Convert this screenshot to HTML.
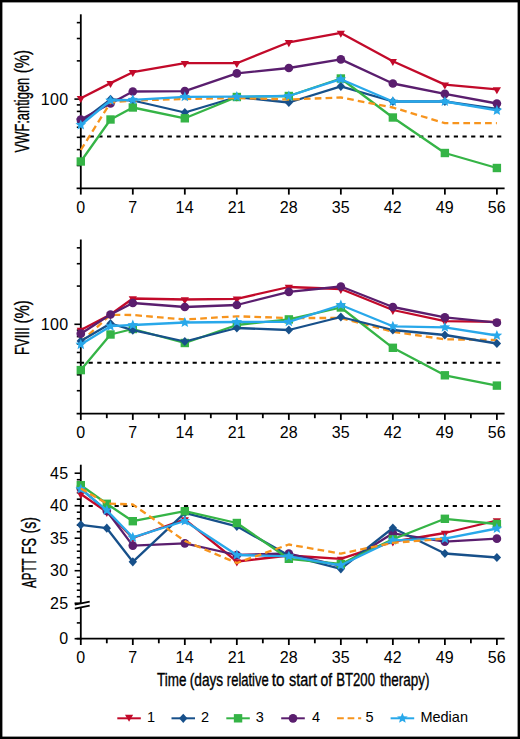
<!DOCTYPE html>
<html><head><meta charset="utf-8"><style>
html,body{margin:0;padding:0;background:#fff;}
svg{display:block;}
text{font-family:"Liberation Sans",sans-serif;fill:#000;}
.tl{font-size:16px;letter-spacing:0.3px;}
.lg{font-size:14.5px;}
.yl{font-size:19px;}
.xl{font-size:17.5px;}
.bw{stroke:#000;stroke-width:0.35px;}
</style></head><body>
<svg width="520" height="739" viewBox="0 0 520 739">
<rect x="0" y="0" width="520" height="739" fill="#fff"/>
<line x1="80.8" y1="14.3" x2="80.8" y2="189.10000000000002" stroke="#000" stroke-width="1.8"/>
<line x1="76.8" y1="165.51" x2="80.8" y2="165.51" stroke="#000" stroke-width="1.6"/>
<line x1="76.8" y1="149.64" x2="80.8" y2="149.64" stroke="#000" stroke-width="1.6"/>
<line x1="76.8" y1="137.33" x2="80.8" y2="137.33" stroke="#000" stroke-width="1.6"/>
<line x1="76.8" y1="127.27" x2="80.8" y2="127.27" stroke="#000" stroke-width="1.6"/>
<line x1="76.8" y1="118.77" x2="80.8" y2="118.77" stroke="#000" stroke-width="1.6"/>
<line x1="76.8" y1="111.41" x2="80.8" y2="111.41" stroke="#000" stroke-width="1.6"/>
<line x1="76.8" y1="104.91" x2="80.8" y2="104.91" stroke="#000" stroke-width="1.6"/>
<line x1="76.8" y1="60.87" x2="80.8" y2="60.87" stroke="#000" stroke-width="1.6"/>
<line x1="76.8" y1="38.51" x2="80.8" y2="38.51" stroke="#000" stroke-width="1.6"/>
<line x1="76.8" y1="22.64" x2="80.8" y2="22.64" stroke="#000" stroke-width="1.6"/>
<line x1="74.4" y1="99.10" x2="80.8" y2="99.10" stroke="#000" stroke-width="1.6"/>
<text x="68.4" y="104.60" text-anchor="end" class="tl">100</text>
<line x1="81.0" y1="136.40" x2="501.3" y2="136.40" stroke="#000" stroke-width="2" stroke-dasharray="4.2,4.47"/>
<line x1="76.6" y1="188.3" x2="504.6" y2="188.3" stroke="#000" stroke-width="1.8"/>
<line x1="80.80" y1="188.3" x2="80.80" y2="194.60000000000002" stroke="#000" stroke-width="1.8"/>
<text x="80.80" y="212.60000000000002" text-anchor="middle" class="tl">0</text>
<line x1="132.81" y1="188.3" x2="132.81" y2="194.60000000000002" stroke="#000" stroke-width="1.8"/>
<text x="132.81" y="212.60000000000002" text-anchor="middle" class="tl">7</text>
<line x1="184.82" y1="188.3" x2="184.82" y2="194.60000000000002" stroke="#000" stroke-width="1.8"/>
<text x="184.82" y="212.60000000000002" text-anchor="middle" class="tl">14</text>
<line x1="236.83" y1="188.3" x2="236.83" y2="194.60000000000002" stroke="#000" stroke-width="1.8"/>
<text x="236.83" y="212.60000000000002" text-anchor="middle" class="tl">21</text>
<line x1="288.84" y1="188.3" x2="288.84" y2="194.60000000000002" stroke="#000" stroke-width="1.8"/>
<text x="288.84" y="212.60000000000002" text-anchor="middle" class="tl">28</text>
<line x1="340.85" y1="188.3" x2="340.85" y2="194.60000000000002" stroke="#000" stroke-width="1.8"/>
<text x="340.85" y="212.60000000000002" text-anchor="middle" class="tl">35</text>
<line x1="392.86" y1="188.3" x2="392.86" y2="194.60000000000002" stroke="#000" stroke-width="1.8"/>
<text x="392.86" y="212.60000000000002" text-anchor="middle" class="tl">42</text>
<line x1="444.87" y1="188.3" x2="444.87" y2="194.60000000000002" stroke="#000" stroke-width="1.8"/>
<text x="444.87" y="212.60000000000002" text-anchor="middle" class="tl">49</text>
<line x1="496.88" y1="188.3" x2="496.88" y2="194.60000000000002" stroke="#000" stroke-width="1.8"/>
<text x="496.88" y="212.60000000000002" text-anchor="middle" class="tl">56</text>
<line x1="80.8" y1="239.5" x2="80.8" y2="414.3" stroke="#000" stroke-width="1.8"/>
<line x1="76.8" y1="390.71" x2="80.8" y2="390.71" stroke="#000" stroke-width="1.6"/>
<line x1="76.8" y1="374.84" x2="80.8" y2="374.84" stroke="#000" stroke-width="1.6"/>
<line x1="76.8" y1="362.53" x2="80.8" y2="362.53" stroke="#000" stroke-width="1.6"/>
<line x1="76.8" y1="352.47" x2="80.8" y2="352.47" stroke="#000" stroke-width="1.6"/>
<line x1="76.8" y1="343.97" x2="80.8" y2="343.97" stroke="#000" stroke-width="1.6"/>
<line x1="76.8" y1="336.61" x2="80.8" y2="336.61" stroke="#000" stroke-width="1.6"/>
<line x1="76.8" y1="330.11" x2="80.8" y2="330.11" stroke="#000" stroke-width="1.6"/>
<line x1="76.8" y1="286.07" x2="80.8" y2="286.07" stroke="#000" stroke-width="1.6"/>
<line x1="76.8" y1="263.71" x2="80.8" y2="263.71" stroke="#000" stroke-width="1.6"/>
<line x1="76.8" y1="247.84" x2="80.8" y2="247.84" stroke="#000" stroke-width="1.6"/>
<line x1="74.4" y1="324.30" x2="80.8" y2="324.30" stroke="#000" stroke-width="1.6"/>
<text x="68.4" y="329.80" text-anchor="end" class="tl">100</text>
<line x1="79.9" y1="362.80" x2="501.3" y2="362.80" stroke="#000" stroke-width="2" stroke-dasharray="4.2,4.47"/>
<line x1="76.6" y1="413.6" x2="504.6" y2="413.6" stroke="#000" stroke-width="1.8"/>
<line x1="80.80" y1="413.6" x2="80.80" y2="419.90000000000003" stroke="#000" stroke-width="1.8"/>
<text x="80.80" y="437.90000000000003" text-anchor="middle" class="tl">0</text>
<line x1="106.80" y1="413.6" x2="106.80" y2="418.20000000000005" stroke="#000" stroke-width="1.8"/>
<line x1="132.81" y1="413.6" x2="132.81" y2="419.90000000000003" stroke="#000" stroke-width="1.8"/>
<text x="132.81" y="437.90000000000003" text-anchor="middle" class="tl">7</text>
<line x1="158.81" y1="413.6" x2="158.81" y2="418.20000000000005" stroke="#000" stroke-width="1.8"/>
<line x1="184.82" y1="413.6" x2="184.82" y2="419.90000000000003" stroke="#000" stroke-width="1.8"/>
<text x="184.82" y="437.90000000000003" text-anchor="middle" class="tl">14</text>
<line x1="210.82" y1="413.6" x2="210.82" y2="418.20000000000005" stroke="#000" stroke-width="1.8"/>
<line x1="236.83" y1="413.6" x2="236.83" y2="419.90000000000003" stroke="#000" stroke-width="1.8"/>
<text x="236.83" y="437.90000000000003" text-anchor="middle" class="tl">21</text>
<line x1="262.83" y1="413.6" x2="262.83" y2="418.20000000000005" stroke="#000" stroke-width="1.8"/>
<line x1="288.84" y1="413.6" x2="288.84" y2="419.90000000000003" stroke="#000" stroke-width="1.8"/>
<text x="288.84" y="437.90000000000003" text-anchor="middle" class="tl">28</text>
<line x1="314.84" y1="413.6" x2="314.84" y2="418.20000000000005" stroke="#000" stroke-width="1.8"/>
<line x1="340.85" y1="413.6" x2="340.85" y2="419.90000000000003" stroke="#000" stroke-width="1.8"/>
<text x="340.85" y="437.90000000000003" text-anchor="middle" class="tl">35</text>
<line x1="366.86" y1="413.6" x2="366.86" y2="418.20000000000005" stroke="#000" stroke-width="1.8"/>
<line x1="392.86" y1="413.6" x2="392.86" y2="419.90000000000003" stroke="#000" stroke-width="1.8"/>
<text x="392.86" y="437.90000000000003" text-anchor="middle" class="tl">42</text>
<line x1="418.87" y1="413.6" x2="418.87" y2="418.20000000000005" stroke="#000" stroke-width="1.8"/>
<line x1="444.87" y1="413.6" x2="444.87" y2="419.90000000000003" stroke="#000" stroke-width="1.8"/>
<text x="444.87" y="437.90000000000003" text-anchor="middle" class="tl">49</text>
<line x1="470.88" y1="413.6" x2="470.88" y2="418.20000000000005" stroke="#000" stroke-width="1.8"/>
<line x1="496.88" y1="413.6" x2="496.88" y2="419.90000000000003" stroke="#000" stroke-width="1.8"/>
<text x="496.88" y="437.90000000000003" text-anchor="middle" class="tl">56</text>
<line x1="80.8" y1="464.7" x2="80.8" y2="639.5" stroke="#000" stroke-width="1.8"/>
<line x1="76.8" y1="596.70" x2="80.8" y2="596.70" stroke="#000" stroke-width="1.6"/>
<line x1="76.8" y1="590.20" x2="80.8" y2="590.20" stroke="#000" stroke-width="1.6"/>
<line x1="76.8" y1="583.70" x2="80.8" y2="583.70" stroke="#000" stroke-width="1.6"/>
<line x1="76.8" y1="577.20" x2="80.8" y2="577.20" stroke="#000" stroke-width="1.6"/>
<line x1="74.6" y1="570.70" x2="80.8" y2="570.70" stroke="#000" stroke-width="1.6"/>
<text x="68.4" y="576.20" text-anchor="end" class="tl">30</text>
<line x1="76.8" y1="564.20" x2="80.8" y2="564.20" stroke="#000" stroke-width="1.6"/>
<line x1="76.8" y1="557.70" x2="80.8" y2="557.70" stroke="#000" stroke-width="1.6"/>
<line x1="76.8" y1="551.20" x2="80.8" y2="551.20" stroke="#000" stroke-width="1.6"/>
<line x1="76.8" y1="544.70" x2="80.8" y2="544.70" stroke="#000" stroke-width="1.6"/>
<line x1="74.6" y1="538.20" x2="80.8" y2="538.20" stroke="#000" stroke-width="1.6"/>
<text x="68.4" y="543.70" text-anchor="end" class="tl">35</text>
<line x1="76.8" y1="531.70" x2="80.8" y2="531.70" stroke="#000" stroke-width="1.6"/>
<line x1="76.8" y1="525.20" x2="80.8" y2="525.20" stroke="#000" stroke-width="1.6"/>
<line x1="76.8" y1="518.70" x2="80.8" y2="518.70" stroke="#000" stroke-width="1.6"/>
<line x1="76.8" y1="512.20" x2="80.8" y2="512.20" stroke="#000" stroke-width="1.6"/>
<line x1="74.6" y1="505.70" x2="80.8" y2="505.70" stroke="#000" stroke-width="1.6"/>
<text x="68.4" y="511.20" text-anchor="end" class="tl">40</text>
<line x1="76.8" y1="499.20" x2="80.8" y2="499.20" stroke="#000" stroke-width="1.6"/>
<line x1="76.8" y1="492.70" x2="80.8" y2="492.70" stroke="#000" stroke-width="1.6"/>
<line x1="76.8" y1="486.20" x2="80.8" y2="486.20" stroke="#000" stroke-width="1.6"/>
<line x1="76.8" y1="479.70" x2="80.8" y2="479.70" stroke="#000" stroke-width="1.6"/>
<line x1="74.6" y1="473.20" x2="80.8" y2="473.20" stroke="#000" stroke-width="1.6"/>
<text x="68.4" y="478.70" text-anchor="end" class="tl">45</text>
<line x1="74.6" y1="603.20" x2="80.8" y2="603.20" stroke="#000" stroke-width="1.6"/>
<text x="68.4" y="608.70" text-anchor="end" class="tl">25</text>
<line x1="76.8" y1="622.9" x2="80.8" y2="622.9" stroke="#000" stroke-width="1.6"/>
<line x1="74.6" y1="638.7" x2="80.8" y2="638.7" stroke="#000" stroke-width="1.6"/>
<text x="68.4" y="644.20" text-anchor="end" class="tl">0</text>
<path d="M74.8,604.6 L89.7,601.6 L89.7,605.6 L74.8,608.6z" fill="#fff"/>
<path d="M74.8,604.6 L89.7,601.6 M74.8,608.6 L89.7,605.6" stroke="#000" stroke-width="1.8" fill="none"/>
<line x1="79.9" y1="506.00" x2="501.3" y2="506.00" stroke="#000" stroke-width="2" stroke-dasharray="4.2,4.47"/>
<line x1="76.6" y1="638.7" x2="504.6" y2="638.7" stroke="#000" stroke-width="1.8"/>
<line x1="80.80" y1="638.7" x2="80.80" y2="645.0" stroke="#000" stroke-width="1.8"/>
<text x="80.80" y="663.0" text-anchor="middle" class="tl">0</text>
<line x1="106.80" y1="638.7" x2="106.80" y2="643.3000000000001" stroke="#000" stroke-width="1.8"/>
<line x1="132.81" y1="638.7" x2="132.81" y2="645.0" stroke="#000" stroke-width="1.8"/>
<text x="132.81" y="663.0" text-anchor="middle" class="tl">7</text>
<line x1="158.81" y1="638.7" x2="158.81" y2="643.3000000000001" stroke="#000" stroke-width="1.8"/>
<line x1="184.82" y1="638.7" x2="184.82" y2="645.0" stroke="#000" stroke-width="1.8"/>
<text x="184.82" y="663.0" text-anchor="middle" class="tl">14</text>
<line x1="210.82" y1="638.7" x2="210.82" y2="643.3000000000001" stroke="#000" stroke-width="1.8"/>
<line x1="236.83" y1="638.7" x2="236.83" y2="645.0" stroke="#000" stroke-width="1.8"/>
<text x="236.83" y="663.0" text-anchor="middle" class="tl">21</text>
<line x1="262.83" y1="638.7" x2="262.83" y2="643.3000000000001" stroke="#000" stroke-width="1.8"/>
<line x1="288.84" y1="638.7" x2="288.84" y2="645.0" stroke="#000" stroke-width="1.8"/>
<text x="288.84" y="663.0" text-anchor="middle" class="tl">28</text>
<line x1="314.84" y1="638.7" x2="314.84" y2="643.3000000000001" stroke="#000" stroke-width="1.8"/>
<line x1="340.85" y1="638.7" x2="340.85" y2="645.0" stroke="#000" stroke-width="1.8"/>
<text x="340.85" y="663.0" text-anchor="middle" class="tl">35</text>
<line x1="366.86" y1="638.7" x2="366.86" y2="643.3000000000001" stroke="#000" stroke-width="1.8"/>
<line x1="392.86" y1="638.7" x2="392.86" y2="645.0" stroke="#000" stroke-width="1.8"/>
<text x="392.86" y="663.0" text-anchor="middle" class="tl">42</text>
<line x1="418.87" y1="638.7" x2="418.87" y2="643.3000000000001" stroke="#000" stroke-width="1.8"/>
<line x1="444.87" y1="638.7" x2="444.87" y2="645.0" stroke="#000" stroke-width="1.8"/>
<text x="444.87" y="663.0" text-anchor="middle" class="tl">49</text>
<line x1="470.88" y1="638.7" x2="470.88" y2="643.3000000000001" stroke="#000" stroke-width="1.8"/>
<line x1="496.88" y1="638.7" x2="496.88" y2="645.0" stroke="#000" stroke-width="1.8"/>
<text x="496.88" y="663.0" text-anchor="middle" class="tl">56</text>
<polyline points="80.80,98.20 110.52,83.10 132.81,72.20 184.82,63.20 236.83,63.20 288.84,42.30 340.85,32.90 392.86,61.20 444.87,84.60 496.88,89.40" fill="none" stroke="#c20a2a" stroke-width="2.3" stroke-linejoin="round"/>
<path d="M76.70,96.00h8.2l-4.1,7.1z" fill="#c20a2a"/>
<path d="M106.42,80.90h8.2l-4.1,7.1z" fill="#c20a2a"/>
<path d="M128.71,70.00h8.2l-4.1,7.1z" fill="#c20a2a"/>
<path d="M180.72,61.00h8.2l-4.1,7.1z" fill="#c20a2a"/>
<path d="M232.73,61.00h8.2l-4.1,7.1z" fill="#c20a2a"/>
<path d="M284.74,40.10h8.2l-4.1,7.1z" fill="#c20a2a"/>
<path d="M336.75,30.70h8.2l-4.1,7.1z" fill="#c20a2a"/>
<path d="M388.76,59.00h8.2l-4.1,7.1z" fill="#c20a2a"/>
<path d="M440.77,82.40h8.2l-4.1,7.1z" fill="#c20a2a"/>
<path d="M492.78,87.20h8.2l-4.1,7.1z" fill="#c20a2a"/>
<polyline points="80.80,122.00 110.52,99.30 132.81,100.50 184.82,112.50 236.83,97.00 288.84,102.50 340.85,86.30 392.86,101.50 444.87,101.50 496.88,109.00" fill="none" stroke="#17508a" stroke-width="2.3" stroke-linejoin="round"/>
<path d="M80.80,117.40l4.2,4.6l-4.2,4.6l-4.2,-4.6z" fill="#17508a"/>
<path d="M110.52,94.70l4.2,4.6l-4.2,4.6l-4.2,-4.6z" fill="#17508a"/>
<path d="M132.81,95.90l4.2,4.6l-4.2,4.6l-4.2,-4.6z" fill="#17508a"/>
<path d="M184.82,107.90l4.2,4.6l-4.2,4.6l-4.2,-4.6z" fill="#17508a"/>
<path d="M236.83,92.40l4.2,4.6l-4.2,4.6l-4.2,-4.6z" fill="#17508a"/>
<path d="M288.84,97.90l4.2,4.6l-4.2,4.6l-4.2,-4.6z" fill="#17508a"/>
<path d="M340.85,81.70l4.2,4.6l-4.2,4.6l-4.2,-4.6z" fill="#17508a"/>
<path d="M392.86,96.90l4.2,4.6l-4.2,4.6l-4.2,-4.6z" fill="#17508a"/>
<path d="M444.87,96.90l4.2,4.6l-4.2,4.6l-4.2,-4.6z" fill="#17508a"/>
<path d="M496.88,104.40l4.2,4.6l-4.2,4.6l-4.2,-4.6z" fill="#17508a"/>
<polyline points="80.80,161.50 110.52,119.50 132.81,107.50 184.82,118.30 236.83,97.00 288.84,96.00 340.85,78.50 392.86,117.50 444.87,153.00 496.88,168.00" fill="none" stroke="#35b446" stroke-width="2.3" stroke-linejoin="round"/>
<rect x="76.60" y="157.30" width="8.4" height="8.4" fill="#35b446"/>
<rect x="106.32" y="115.30" width="8.4" height="8.4" fill="#35b446"/>
<rect x="128.61" y="103.30" width="8.4" height="8.4" fill="#35b446"/>
<rect x="180.62" y="114.10" width="8.4" height="8.4" fill="#35b446"/>
<rect x="232.63" y="92.80" width="8.4" height="8.4" fill="#35b446"/>
<rect x="284.64" y="91.80" width="8.4" height="8.4" fill="#35b446"/>
<rect x="336.65" y="74.30" width="8.4" height="8.4" fill="#35b446"/>
<rect x="388.66" y="113.30" width="8.4" height="8.4" fill="#35b446"/>
<rect x="440.67" y="148.80" width="8.4" height="8.4" fill="#35b446"/>
<rect x="492.68" y="163.80" width="8.4" height="8.4" fill="#35b446"/>
<polyline points="80.80,119.60 110.52,103.40 132.81,91.50 184.82,91.20 236.83,73.40 288.84,68.00 340.85,59.40 392.86,83.50 444.87,93.80 496.88,103.50" fill="none" stroke="#5a1e6e" stroke-width="2.3" stroke-linejoin="round"/>
<circle cx="80.80" cy="119.60" r="4.35" fill="#5a1e6e"/>
<circle cx="110.52" cy="103.40" r="4.35" fill="#5a1e6e"/>
<circle cx="132.81" cy="91.50" r="4.35" fill="#5a1e6e"/>
<circle cx="184.82" cy="91.20" r="4.35" fill="#5a1e6e"/>
<circle cx="236.83" cy="73.40" r="4.35" fill="#5a1e6e"/>
<circle cx="288.84" cy="68.00" r="4.35" fill="#5a1e6e"/>
<circle cx="340.85" cy="59.40" r="4.35" fill="#5a1e6e"/>
<circle cx="392.86" cy="83.50" r="4.35" fill="#5a1e6e"/>
<circle cx="444.87" cy="93.80" r="4.35" fill="#5a1e6e"/>
<circle cx="496.88" cy="103.50" r="4.35" fill="#5a1e6e"/>
<polyline points="80.80,150.00 110.52,102.50 132.81,100.50 184.82,99.00 236.83,98.00 288.84,99.50 340.85,97.50 392.86,107.50 444.87,123.20 496.88,123.20" fill="none" stroke="#f7941d" stroke-width="2.3" stroke-dasharray="6.7,4.15" stroke-linejoin="round"/>
<polyline points="80.80,125.00 110.52,100.50 132.81,99.80 184.82,96.80 236.83,96.70 288.84,96.00 340.85,79.20 392.86,101.50 444.87,101.50 496.88,110.40" fill="none" stroke="#28a8ea" stroke-width="2.3" stroke-linejoin="round"/>
<polygon points="80.80,119.40 82.27,122.98 86.13,123.27 83.18,125.77 84.09,129.53 80.80,127.50 77.51,129.53 78.42,125.77 75.47,123.27 79.33,122.98" fill="#28a8ea"/>
<polygon points="110.52,94.90 111.99,98.48 115.85,98.77 112.90,101.27 113.81,105.03 110.52,103.00 107.23,105.03 108.14,101.27 105.19,98.77 109.05,98.48" fill="#28a8ea"/>
<polygon points="132.81,94.20 134.28,97.78 138.14,98.07 135.19,100.57 136.10,104.33 132.81,102.30 129.52,104.33 130.43,100.57 127.48,98.07 131.34,97.78" fill="#28a8ea"/>
<polygon points="184.82,91.20 186.29,94.78 190.15,95.07 187.20,97.57 188.11,101.33 184.82,99.30 181.53,101.33 182.44,97.57 179.49,95.07 183.35,94.78" fill="#28a8ea"/>
<polygon points="236.83,91.10 238.30,94.68 242.16,94.97 239.21,97.47 240.12,101.23 236.83,99.20 233.54,101.23 234.45,97.47 231.50,94.97 235.36,94.68" fill="#28a8ea"/>
<polygon points="288.84,90.40 290.31,93.98 294.17,94.27 291.22,96.77 292.13,100.53 288.84,98.50 285.55,100.53 286.46,96.77 283.51,94.27 287.37,93.98" fill="#28a8ea"/>
<polygon points="340.85,73.60 342.32,77.18 346.18,77.47 343.23,79.97 344.14,83.73 340.85,81.70 337.56,83.73 338.47,79.97 335.52,77.47 339.38,77.18" fill="#28a8ea"/>
<polygon points="392.86,95.90 394.33,99.48 398.19,99.77 395.24,102.27 396.15,106.03 392.86,104.00 389.57,106.03 390.48,102.27 387.53,99.77 391.39,99.48" fill="#28a8ea"/>
<polygon points="444.87,95.90 446.34,99.48 450.20,99.77 447.25,102.27 448.16,106.03 444.87,104.00 441.58,106.03 442.49,102.27 439.54,99.77 443.40,99.48" fill="#28a8ea"/>
<polygon points="496.88,104.80 498.35,108.38 502.21,108.67 499.26,111.17 500.17,114.93 496.88,112.90 493.59,114.93 494.50,111.17 491.55,108.67 495.41,108.38" fill="#28a8ea"/>
<polyline points="80.80,330.00 110.52,314.50 132.81,298.50 184.82,299.50 236.83,298.80 288.84,287.00 340.85,289.00 392.86,310.00 444.87,321.20 496.88,321.80" fill="none" stroke="#c20a2a" stroke-width="2.3" stroke-linejoin="round"/>
<path d="M76.70,327.80h8.2l-4.1,7.1z" fill="#c20a2a"/>
<path d="M106.42,312.30h8.2l-4.1,7.1z" fill="#c20a2a"/>
<path d="M128.71,296.30h8.2l-4.1,7.1z" fill="#c20a2a"/>
<path d="M180.72,297.30h8.2l-4.1,7.1z" fill="#c20a2a"/>
<path d="M232.73,296.60h8.2l-4.1,7.1z" fill="#c20a2a"/>
<path d="M284.74,284.80h8.2l-4.1,7.1z" fill="#c20a2a"/>
<path d="M336.75,286.80h8.2l-4.1,7.1z" fill="#c20a2a"/>
<path d="M388.76,307.80h8.2l-4.1,7.1z" fill="#c20a2a"/>
<path d="M440.77,319.00h8.2l-4.1,7.1z" fill="#c20a2a"/>
<path d="M492.78,319.60h8.2l-4.1,7.1z" fill="#c20a2a"/>
<polyline points="80.80,342.00 110.52,314.80 132.81,315.00 184.82,319.50 236.83,316.30 288.84,318.00 340.85,318.00 392.86,331.80 444.87,339.30 496.88,340.00" fill="none" stroke="#f7941d" stroke-width="2.3" stroke-dasharray="6.7,4.15" stroke-linejoin="round"/>
<polyline points="80.80,370.10 110.52,334.50 132.81,329.00 184.82,343.00 236.83,325.00 288.84,319.40 340.85,307.50 392.86,347.80 444.87,375.30 496.88,385.60" fill="none" stroke="#35b446" stroke-width="2.3" stroke-linejoin="round"/>
<rect x="76.60" y="365.90" width="8.4" height="8.4" fill="#35b446"/>
<rect x="106.32" y="330.30" width="8.4" height="8.4" fill="#35b446"/>
<rect x="128.61" y="324.80" width="8.4" height="8.4" fill="#35b446"/>
<rect x="180.62" y="338.80" width="8.4" height="8.4" fill="#35b446"/>
<rect x="232.63" y="320.80" width="8.4" height="8.4" fill="#35b446"/>
<rect x="284.64" y="315.20" width="8.4" height="8.4" fill="#35b446"/>
<rect x="336.65" y="303.30" width="8.4" height="8.4" fill="#35b446"/>
<rect x="388.66" y="343.60" width="8.4" height="8.4" fill="#35b446"/>
<rect x="440.67" y="371.10" width="8.4" height="8.4" fill="#35b446"/>
<rect x="492.68" y="381.40" width="8.4" height="8.4" fill="#35b446"/>
<polyline points="80.80,341.10 110.52,323.50 132.81,330.20 184.82,341.50 236.83,328.00 288.84,330.00 340.85,317.00 392.86,330.00 444.87,335.00 496.88,343.50" fill="none" stroke="#17508a" stroke-width="2.3" stroke-linejoin="round"/>
<path d="M80.80,336.50l4.2,4.6l-4.2,4.6l-4.2,-4.6z" fill="#17508a"/>
<path d="M110.52,318.90l4.2,4.6l-4.2,4.6l-4.2,-4.6z" fill="#17508a"/>
<path d="M132.81,325.60l4.2,4.6l-4.2,4.6l-4.2,-4.6z" fill="#17508a"/>
<path d="M184.82,336.90l4.2,4.6l-4.2,4.6l-4.2,-4.6z" fill="#17508a"/>
<path d="M236.83,323.40l4.2,4.6l-4.2,4.6l-4.2,-4.6z" fill="#17508a"/>
<path d="M288.84,325.40l4.2,4.6l-4.2,4.6l-4.2,-4.6z" fill="#17508a"/>
<path d="M340.85,312.40l4.2,4.6l-4.2,4.6l-4.2,-4.6z" fill="#17508a"/>
<path d="M392.86,325.40l4.2,4.6l-4.2,4.6l-4.2,-4.6z" fill="#17508a"/>
<path d="M444.87,330.40l4.2,4.6l-4.2,4.6l-4.2,-4.6z" fill="#17508a"/>
<path d="M496.88,338.90l4.2,4.6l-4.2,4.6l-4.2,-4.6z" fill="#17508a"/>
<polyline points="80.80,333.70 110.52,314.50 132.81,303.00 184.82,307.00 236.83,305.00 288.84,291.80 340.85,286.50 392.86,307.00 444.87,317.30 496.88,322.70" fill="none" stroke="#5a1e6e" stroke-width="2.3" stroke-linejoin="round"/>
<circle cx="80.80" cy="333.70" r="4.35" fill="#5a1e6e"/>
<circle cx="110.52" cy="314.50" r="4.35" fill="#5a1e6e"/>
<circle cx="132.81" cy="303.00" r="4.35" fill="#5a1e6e"/>
<circle cx="184.82" cy="307.00" r="4.35" fill="#5a1e6e"/>
<circle cx="236.83" cy="305.00" r="4.35" fill="#5a1e6e"/>
<circle cx="288.84" cy="291.80" r="4.35" fill="#5a1e6e"/>
<circle cx="340.85" cy="286.50" r="4.35" fill="#5a1e6e"/>
<circle cx="392.86" cy="307.00" r="4.35" fill="#5a1e6e"/>
<circle cx="444.87" cy="317.30" r="4.35" fill="#5a1e6e"/>
<circle cx="496.88" cy="322.70" r="4.35" fill="#5a1e6e"/>
<polyline points="80.80,344.60 110.52,326.20 132.81,325.00 184.82,322.50 236.83,322.00 288.84,321.80 340.85,305.00 392.86,326.30 444.87,327.30 496.88,335.50" fill="none" stroke="#28a8ea" stroke-width="2.3" stroke-linejoin="round"/>
<polygon points="80.80,339.00 82.27,342.58 86.13,342.87 83.18,345.37 84.09,349.13 80.80,347.10 77.51,349.13 78.42,345.37 75.47,342.87 79.33,342.58" fill="#28a8ea"/>
<polygon points="110.52,320.60 111.99,324.18 115.85,324.47 112.90,326.97 113.81,330.73 110.52,328.70 107.23,330.73 108.14,326.97 105.19,324.47 109.05,324.18" fill="#28a8ea"/>
<polygon points="132.81,319.40 134.28,322.98 138.14,323.27 135.19,325.77 136.10,329.53 132.81,327.50 129.52,329.53 130.43,325.77 127.48,323.27 131.34,322.98" fill="#28a8ea"/>
<polygon points="184.82,316.90 186.29,320.48 190.15,320.77 187.20,323.27 188.11,327.03 184.82,325.00 181.53,327.03 182.44,323.27 179.49,320.77 183.35,320.48" fill="#28a8ea"/>
<polygon points="236.83,316.40 238.30,319.98 242.16,320.27 239.21,322.77 240.12,326.53 236.83,324.50 233.54,326.53 234.45,322.77 231.50,320.27 235.36,319.98" fill="#28a8ea"/>
<polygon points="288.84,316.20 290.31,319.78 294.17,320.07 291.22,322.57 292.13,326.33 288.84,324.30 285.55,326.33 286.46,322.57 283.51,320.07 287.37,319.78" fill="#28a8ea"/>
<polygon points="340.85,299.40 342.32,302.98 346.18,303.27 343.23,305.77 344.14,309.53 340.85,307.50 337.56,309.53 338.47,305.77 335.52,303.27 339.38,302.98" fill="#28a8ea"/>
<polygon points="392.86,320.70 394.33,324.28 398.19,324.57 395.24,327.07 396.15,330.83 392.86,328.80 389.57,330.83 390.48,327.07 387.53,324.57 391.39,324.28" fill="#28a8ea"/>
<polygon points="444.87,321.70 446.34,325.28 450.20,325.57 447.25,328.07 448.16,331.83 444.87,329.80 441.58,331.83 442.49,328.07 439.54,325.57 443.40,325.28" fill="#28a8ea"/>
<polygon points="496.88,329.90 498.35,333.48 502.21,333.77 499.26,336.27 500.17,340.03 496.88,338.00 493.59,340.03 494.50,336.27 491.55,333.77 495.41,333.48" fill="#28a8ea"/>
<polyline points="80.80,494.00 106.80,512.00 132.81,538.00 184.82,519.40 236.83,561.50 288.84,555.50 340.85,558.90 392.86,541.60 444.87,533.00 496.88,520.50" fill="none" stroke="#c20a2a" stroke-width="2.3" stroke-linejoin="round"/>
<path d="M76.70,491.80h8.2l-4.1,7.1z" fill="#c20a2a"/>
<path d="M102.70,509.80h8.2l-4.1,7.1z" fill="#c20a2a"/>
<path d="M128.71,535.80h8.2l-4.1,7.1z" fill="#c20a2a"/>
<path d="M180.72,517.20h8.2l-4.1,7.1z" fill="#c20a2a"/>
<path d="M232.73,559.30h8.2l-4.1,7.1z" fill="#c20a2a"/>
<path d="M284.74,553.30h8.2l-4.1,7.1z" fill="#c20a2a"/>
<path d="M336.75,556.70h8.2l-4.1,7.1z" fill="#c20a2a"/>
<path d="M388.76,539.40h8.2l-4.1,7.1z" fill="#c20a2a"/>
<path d="M440.77,530.80h8.2l-4.1,7.1z" fill="#c20a2a"/>
<path d="M492.78,518.30h8.2l-4.1,7.1z" fill="#c20a2a"/>
<polyline points="80.80,488.50 106.80,511.00 132.81,545.60 184.82,543.30 236.83,555.00 288.84,553.50 340.85,566.00 392.86,533.30 444.87,541.60 496.88,538.70" fill="none" stroke="#5a1e6e" stroke-width="2.3" stroke-linejoin="round"/>
<circle cx="80.80" cy="488.50" r="4.35" fill="#5a1e6e"/>
<circle cx="106.80" cy="511.00" r="4.35" fill="#5a1e6e"/>
<circle cx="132.81" cy="545.60" r="4.35" fill="#5a1e6e"/>
<circle cx="184.82" cy="543.30" r="4.35" fill="#5a1e6e"/>
<circle cx="236.83" cy="555.00" r="4.35" fill="#5a1e6e"/>
<circle cx="288.84" cy="553.50" r="4.35" fill="#5a1e6e"/>
<circle cx="340.85" cy="566.00" r="4.35" fill="#5a1e6e"/>
<circle cx="392.86" cy="533.30" r="4.35" fill="#5a1e6e"/>
<circle cx="444.87" cy="541.60" r="4.35" fill="#5a1e6e"/>
<circle cx="496.88" cy="538.70" r="4.35" fill="#5a1e6e"/>
<polyline points="80.80,524.80 106.80,528.20 132.81,561.80 184.82,512.80 236.83,526.30 288.84,555.50 340.85,568.80 392.86,528.00 444.87,553.50 496.88,557.50" fill="none" stroke="#17508a" stroke-width="2.3" stroke-linejoin="round"/>
<path d="M80.80,520.20l4.2,4.6l-4.2,4.6l-4.2,-4.6z" fill="#17508a"/>
<path d="M106.80,523.60l4.2,4.6l-4.2,4.6l-4.2,-4.6z" fill="#17508a"/>
<path d="M132.81,557.20l4.2,4.6l-4.2,4.6l-4.2,-4.6z" fill="#17508a"/>
<path d="M184.82,508.20l4.2,4.6l-4.2,4.6l-4.2,-4.6z" fill="#17508a"/>
<path d="M236.83,521.70l4.2,4.6l-4.2,4.6l-4.2,-4.6z" fill="#17508a"/>
<path d="M288.84,550.90l4.2,4.6l-4.2,4.6l-4.2,-4.6z" fill="#17508a"/>
<path d="M340.85,564.20l4.2,4.6l-4.2,4.6l-4.2,-4.6z" fill="#17508a"/>
<path d="M392.86,523.40l4.2,4.6l-4.2,4.6l-4.2,-4.6z" fill="#17508a"/>
<path d="M444.87,548.90l4.2,4.6l-4.2,4.6l-4.2,-4.6z" fill="#17508a"/>
<path d="M496.88,552.90l4.2,4.6l-4.2,4.6l-4.2,-4.6z" fill="#17508a"/>
<polyline points="80.80,485.20 106.80,503.80 132.81,521.20 184.82,511.20 236.83,523.00 288.84,558.80 340.85,564.00 392.86,539.30 444.87,518.80 496.88,524.00" fill="none" stroke="#35b446" stroke-width="2.3" stroke-linejoin="round"/>
<rect x="76.60" y="481.00" width="8.4" height="8.4" fill="#35b446"/>
<rect x="102.60" y="499.60" width="8.4" height="8.4" fill="#35b446"/>
<rect x="128.61" y="517.00" width="8.4" height="8.4" fill="#35b446"/>
<rect x="180.62" y="507.00" width="8.4" height="8.4" fill="#35b446"/>
<rect x="232.63" y="518.80" width="8.4" height="8.4" fill="#35b446"/>
<rect x="284.64" y="554.60" width="8.4" height="8.4" fill="#35b446"/>
<rect x="336.65" y="559.80" width="8.4" height="8.4" fill="#35b446"/>
<rect x="388.66" y="535.10" width="8.4" height="8.4" fill="#35b446"/>
<rect x="440.67" y="514.60" width="8.4" height="8.4" fill="#35b446"/>
<rect x="492.68" y="519.80" width="8.4" height="8.4" fill="#35b446"/>
<polyline points="80.80,489.00 106.80,510.30 132.81,537.40 184.82,521.00 236.83,555.00 288.84,556.30 340.85,565.30 392.86,540.30 444.87,538.70 496.88,528.50" fill="none" stroke="#28a8ea" stroke-width="2.3" stroke-linejoin="round"/>
<polygon points="80.80,483.40 82.27,486.98 86.13,487.27 83.18,489.77 84.09,493.53 80.80,491.50 77.51,493.53 78.42,489.77 75.47,487.27 79.33,486.98" fill="#28a8ea"/>
<polygon points="106.80,504.70 108.27,508.28 112.13,508.57 109.18,511.07 110.10,514.83 106.80,512.80 103.51,514.83 104.43,511.07 101.48,508.57 105.34,508.28" fill="#28a8ea"/>
<polygon points="132.81,531.80 134.28,535.38 138.14,535.67 135.19,538.17 136.10,541.93 132.81,539.90 129.52,541.93 130.43,538.17 127.48,535.67 131.34,535.38" fill="#28a8ea"/>
<polygon points="184.82,515.40 186.29,518.98 190.15,519.27 187.20,521.77 188.11,525.53 184.82,523.50 181.53,525.53 182.44,521.77 179.49,519.27 183.35,518.98" fill="#28a8ea"/>
<polygon points="236.83,549.40 238.30,552.98 242.16,553.27 239.21,555.77 240.12,559.53 236.83,557.50 233.54,559.53 234.45,555.77 231.50,553.27 235.36,552.98" fill="#28a8ea"/>
<polygon points="288.84,550.70 290.31,554.28 294.17,554.57 291.22,557.07 292.13,560.83 288.84,558.80 285.55,560.83 286.46,557.07 283.51,554.57 287.37,554.28" fill="#28a8ea"/>
<polygon points="340.85,559.70 342.32,563.28 346.18,563.57 343.23,566.07 344.14,569.83 340.85,567.80 337.56,569.83 338.47,566.07 335.52,563.57 339.38,563.28" fill="#28a8ea"/>
<polygon points="392.86,534.70 394.33,538.28 398.19,538.57 395.24,541.07 396.15,544.83 392.86,542.80 389.57,544.83 390.48,541.07 387.53,538.57 391.39,538.28" fill="#28a8ea"/>
<polygon points="444.87,533.10 446.34,536.68 450.20,536.97 447.25,539.47 448.16,543.23 444.87,541.20 441.58,543.23 442.49,539.47 439.54,536.97 443.40,536.68" fill="#28a8ea"/>
<polygon points="496.88,522.90 498.35,526.48 502.21,526.77 499.26,529.27 500.17,533.03 496.88,531.00 493.59,533.03 494.50,529.27 491.55,526.77 495.41,526.48" fill="#28a8ea"/>
<polyline points="80.80,488.50 106.80,503.50 132.81,504.50 184.82,541.00 236.83,563.00 288.84,544.50 340.85,553.60 392.86,542.80 444.87,538.70" fill="none" stroke="#f7941d" stroke-width="2.3" stroke-dasharray="6.7,4.15" stroke-linejoin="round"/>
<text x="157.10" y="685.8" style="font-size:17.5px" class="bw" textLength="29.39" lengthAdjust="spacingAndGlyphs">Time</text>
<text x="189.72" y="685.8" style="font-size:17.5px" class="bw" textLength="33.51" lengthAdjust="spacingAndGlyphs">(days</text>
<text x="226.86" y="685.8" style="font-size:17.5px" class="bw" textLength="41.85" lengthAdjust="spacingAndGlyphs">relative</text>
<text x="271.70" y="685.8" style="font-size:17.5px" class="bw" textLength="12.84" lengthAdjust="spacingAndGlyphs">to</text>
<text x="288.97" y="685.8" style="font-size:17.5px" class="bw" textLength="28.17" lengthAdjust="spacingAndGlyphs">start</text>
<text x="320.51" y="685.8" style="font-size:17.5px" class="bw" textLength="11.58" lengthAdjust="spacingAndGlyphs">of</text>
<text x="336.15" y="685.8" style="font-size:17.5px" class="bw" textLength="38.88" lengthAdjust="spacingAndGlyphs">BT200</text>
<text x="379.90" y="685.8" style="font-size:17.5px" class="bw" textLength="49.53" lengthAdjust="spacingAndGlyphs">therapy)</text>
<text transform="translate(28.6,152.40) rotate(-90)" style="font-size:19.5px" class="bw" textLength="74.64" lengthAdjust="spacingAndGlyphs">VWF:antigen</text>
<text transform="translate(28.6,73.16) rotate(-90)" style="font-size:19.5px" class="bw" textLength="23.18" lengthAdjust="spacingAndGlyphs">(%)</text>
<text transform="translate(28.6,354.94) rotate(-90)" style="font-size:19.5px" class="bw" textLength="27.49" lengthAdjust="spacingAndGlyphs">FVIII</text>
<text transform="translate(28.6,323.57) rotate(-90)" style="font-size:19.5px" class="bw" textLength="23.40" lengthAdjust="spacingAndGlyphs">(%)</text>
<text transform="translate(36.1,588.00) rotate(-90)" style="font-size:19.5px" class="bw" textLength="29.61" lengthAdjust="spacingAndGlyphs">APTT</text>
<text transform="translate(36.1,554.30) rotate(-90)" style="font-size:19.5px" class="bw" textLength="16.20" lengthAdjust="spacingAndGlyphs">FS</text>
<text transform="translate(36.1,533.53) rotate(-90)" style="font-size:19.5px" class="bw" textLength="16.57" lengthAdjust="spacingAndGlyphs">(s)</text>
<line x1="117.3" y1="718.3" x2="140.8" y2="718.3" stroke="#c20a2a" stroke-width="2"/>
<path d="M124.95,714.70h8.2l-4.1,7.1z" fill="#c20a2a"/>
<text x="146.9" y="722.0999999999999" class="lg">1</text>
<line x1="171.5" y1="718.3" x2="195" y2="718.3" stroke="#17508a" stroke-width="2"/>
<path d="M183.25,713.70l4.2,4.6l-4.2,4.6l-4.2,-4.6z" fill="#17508a"/>
<text x="200.9" y="722.0999999999999" class="lg">2</text>
<line x1="226.3" y1="718.3" x2="249.8" y2="718.3" stroke="#35b446" stroke-width="2"/>
<rect x="233.85" y="714.10" width="8.4" height="8.4" fill="#35b446"/>
<text x="255.8" y="722.0999999999999" class="lg">3</text>
<line x1="281.2" y1="718.3" x2="304.8" y2="718.3" stroke="#5a1e6e" stroke-width="2"/>
<circle cx="293.00" cy="718.30" r="4.35" fill="#5a1e6e"/>
<text x="311.9" y="722.0999999999999" class="lg">4</text>
<line x1="337.1" y1="718.3" x2="361.2" y2="718.3" stroke="#f7941d" stroke-width="2" stroke-dasharray="6.7,3.8"/>
<text x="365.4" y="722.0999999999999" class="lg">5</text>
<line x1="390.6" y1="718.3" x2="414.2" y2="718.3" stroke="#28a8ea" stroke-width="2"/>
<polygon points="402.40,712.70 403.87,716.28 407.73,716.57 404.78,719.07 405.69,722.83 402.40,720.80 399.11,722.83 400.02,719.07 397.07,716.57 400.93,716.28" fill="#28a8ea"/>
<text x="420.4" y="722.0999999999999" class="lg">Median</text>
<rect x="0" y="0" width="520" height="2.4" fill="#000"/>
<rect x="0" y="0" width="2.4" height="739" fill="#000"/>
<rect x="517.6" y="0" width="2.4" height="739" fill="#000"/>
<rect x="0" y="736.6" width="520" height="2.4" fill="#000"/>
</svg>
</body></html>
